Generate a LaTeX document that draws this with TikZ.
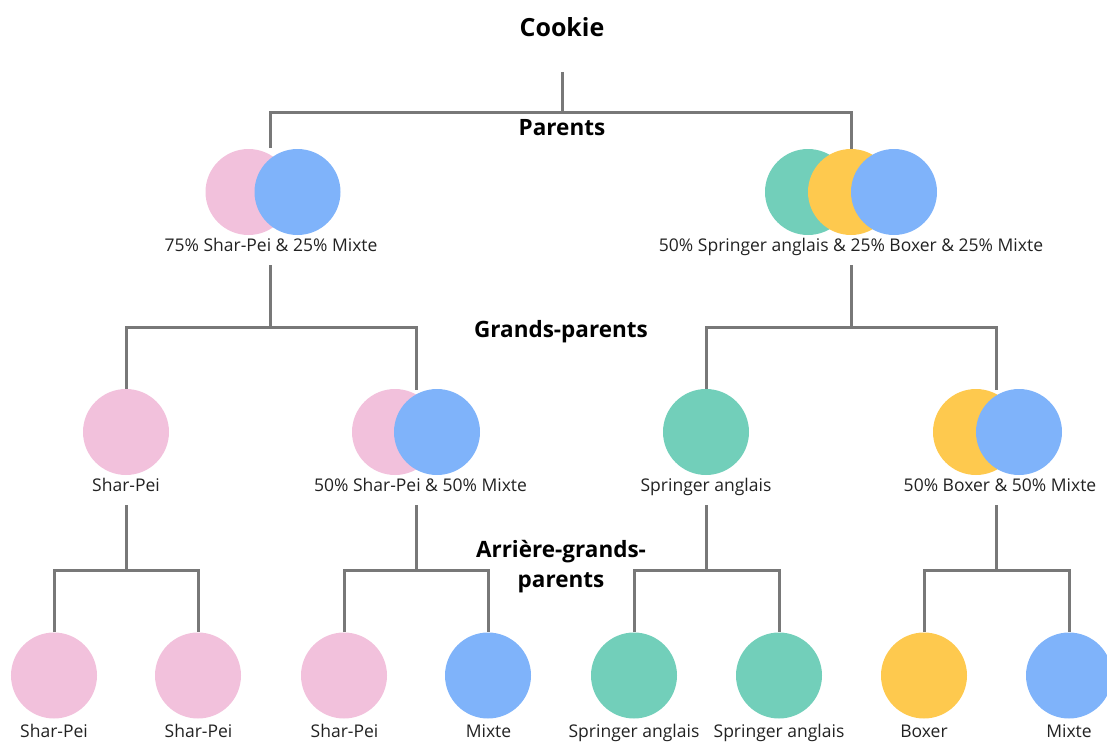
\documentclass[tikz,border=0pt]{standalone}
\usepackage{fontspec}
\setmainfont{Open Sans}
\definecolor{cpink}{HTML}{F2C1DC}
\definecolor{cblue}{HTML}{7FB3FA}
\definecolor{cgreen}{HTML}{72CFBA}
\definecolor{cyellow}{HTML}{FEC94E}
\definecolor{linegray}{HTML}{787878}
\definecolor{txt}{HTML}{222222}
\begin{document}
\begin{tikzpicture}[x=1bp,y=-1bp,
  conn/.style={draw=linegray, line width=3bp},
  disc/.style={circle, inner sep=0pt, minimum size=86bp, draw=none},
  pinkd/.style={disc, fill=cpink},
  blued/.style={disc, fill=cblue},
  greend/.style={disc, fill=cgreen},
  yellowd/.style={disc, fill=cyellow},
  lab/.style={font=\fontsize{17.5bp}{21bp}\selectfont, inner sep=0pt, anchor=base, text=txt},
  head/.style={font=\fontsize{22.5bp}{30bp}\selectfont\bfseries, inner sep=0pt, text=black}]
\useasboundingbox (0,0) rectangle (1107,743);

% headings
\node[head, font=\fontsize{25bp}{30bp}\selectfont\bfseries, anchor=base] (cookie) at (562,37) {Cookie};
\node[head, anchor=base] (hpar) at (562,135) {Parents};
\node[head, anchor=base] (hgp) at (561,337) {Grands-parents};
\node[head, align=center, anchor=center] (hagp) at (561,567) {Arrière-grands-\\parents};

% junction coordinates
\coordinate (c0) at (562,72);
\coordinate (j0) at (562,112);
\coordinate (pLt) at (270,148);
\coordinate (pRt) at (851,150);
\coordinate (pLb) at (270,265);
\coordinate (pRb) at (851,265);
\coordinate (j1L) at (270,327);
\coordinate (j1R) at (851,327);
\coordinate (gBt) at (416,390);
\coordinate (gDt) at (996,390);
\coordinate (gAb) at (126,505);
\coordinate (gBb) at (416,505);
\coordinate (gCb) at (706,505);
\coordinate (gDb) at (996,505);
\coordinate (jA) at (126,570);
\coordinate (jB) at (416,570);
\coordinate (jC) at (706,570);
\coordinate (jD) at (996,570);

% connectors (drawn first, under the discs)
\draw[conn] (c0) -- (j0);
\draw[conn] (pLt) |- (j0) -| (pRt);
\draw[conn] (pLb) -- (j1L);
\draw[conn] (pRb) -- (j1R);

% parents
\node[pinkd] (pL1) at (248.5,192) {};
\node[blued] (pL2) at (297.5,192) {};
\node[greend] (pR1) at (808,192) {};
\node[yellowd] (pR2) at (851,192) {};
\node[blued] (pR3) at (894,192) {};
\node[lab] (pLl) at (271,251) {75\% Shar-Pei \& 25\% Mixte};
\node[lab] (pRl) at (851,251) {50\% Springer anglais \& 25\% Boxer \& 25\% Mixte};

% grandparents
\node[pinkd] (gA) at (126,432) {};
\node[pinkd] (gB1) at (395,432) {};
\node[blued] (gB2) at (437,432) {};
\node[greend] (gC) at (706,432) {};
\node[yellowd] (gD1) at (976,432) {};
\node[blued] (gD2) at (1019,432) {};
\node[lab] (gAl) at (126,491.5) {Shar-Pei};
\node[lab] (gBl) at (420.5,491.5) {50\% Shar-Pei \& 50\% Mixte};
\node[lab] (gCl) at (706,491.5) {Springer anglais};
\node[lab] (gDl) at (1000,491.5) {50\% Boxer \& 50\% Mixte};

% great-grandparents
\node[pinkd] (a1) at (54,675.5) {};
\node[pinkd] (a2) at (198,675.5) {};
\node[pinkd] (b1) at (344,675.5) {};
\node[blued] (b2) at (488,675.5) {};
\node[greend] (c1) at (634,675.5) {};
\node[greend] (c2) at (779,675.5) {};
\node[yellowd] (d1) at (924,675.5) {};
\node[blued] (d2) at (1069,675.5) {};
\node[lab] (a1l) at (54,737) {Shar-Pei};
\node[lab] (a2l) at (198.5,737) {Shar-Pei};
\node[lab] (b1l) at (344.5,737) {Shar-Pei};
\node[lab] (b2l) at (488.5,737) {Mixte};
\node[lab] (c1l) at (634,737) {Springer anglais};
\node[lab] (c2l) at (779,737) {Springer anglais};
\node[lab] (d1l) at (924,737) {Boxer};
\node[lab] (d2l) at (1069,737) {Mixte};

% lower connectors
\draw[conn] (gA.north) |- (j1L) -| (gBt);
\draw[conn] (gC.north) |- (j1R) -| (gDt);
\draw[conn] (gAb) -- (jA);
\draw[conn] (gBb) -- (jB);
\draw[conn] (gCb) -- (jC);
\draw[conn] (gDb) -- (jD);
\draw[conn] (a1.north) |- (jA) -| (a2.north);
\draw[conn] (b1.north) |- (jB) -| (b2.north);
\draw[conn] (c1.north) |- (jC) -| (c2.north);
\draw[conn] (d1.north) |- (jD) -| (d2.north);
\end{tikzpicture}
\end{document}
